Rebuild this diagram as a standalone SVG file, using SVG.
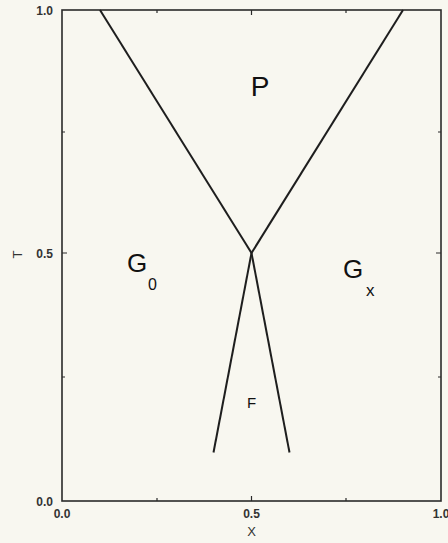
<svg xmlns="http://www.w3.org/2000/svg" width="448" height="543" viewBox="0 0 448 543">
<style>
.ax{fill:none;stroke:#2a2a2a;stroke-width:1.6}
.ln{fill:none;stroke:#1e1e1e;stroke-width:2}
.tk{stroke:#2a2a2a;stroke-width:1.2}
.tl{font-family:"Liberation Sans",Arial,sans-serif;font-weight:bold;font-size:12px;fill:#333}
.lb{font-family:"Liberation Sans",Arial,sans-serif;fill:#111}
</style>
<rect x="0" y="0" width="448" height="543" fill="#f8f7f0"/>
<g id="axes">
<rect class="ax" x="62" y="10" width="379" height="491"/>
<path class="tk" d="M157,501v-3M251.5,501v-5M346,501v-3M157,10v3M251.5,10v5M346,10v3M62,132v0h3M62,253h5M62,377h3M441,132h-3M441,253h-5M441,377h-3"/>
<text class="tl" x="53" y="15" text-anchor="end">1.0</text>
<text class="tl" x="53" y="258" text-anchor="end">0.5</text>
<text class="tl" x="53" y="506" text-anchor="end">0.0</text>
<text class="tl" x="62" y="518" text-anchor="middle">0.0</text>
<text class="tl" x="251.5" y="518" text-anchor="middle">0.5</text>
<text class="tl" x="441" y="518" text-anchor="middle">1.0</text>
<text class="tl" x="251.5" y="536" text-anchor="middle" style="font-weight:normal;font-size:13px">X</text>
<text class="tl" transform="translate(22,254.5) rotate(-90)" text-anchor="middle" style="font-weight:normal;font-size:13px">T</text>
</g>
<g id="connectors">
<line class="ln" x1="100" y1="10" x2="251.5" y2="253"/>
<line class="ln" x1="403" y1="10" x2="251.5" y2="253"/>
<line class="ln" x1="251.5" y1="253" x2="213.5" y2="452.5"/>
<line class="ln" x1="251.5" y1="253" x2="289.5" y2="452.5"/>
</g>
<g id="P"><text class="lb" x="260" y="96" text-anchor="middle" font-size="28">P</text></g>
<g id="G0"><text class="lb" x="127" y="272" font-size="26">G</text><text class="lb" x="148" y="290" font-size="16">0</text></g>
<g id="Gx"><text class="lb" x="343" y="278" font-size="26">G</text><text class="lb" x="366" y="296" font-size="17">x</text></g>
<g id="F"><text class="lb" x="251.5" y="408" text-anchor="middle" font-size="15">F</text></g>
</svg>
